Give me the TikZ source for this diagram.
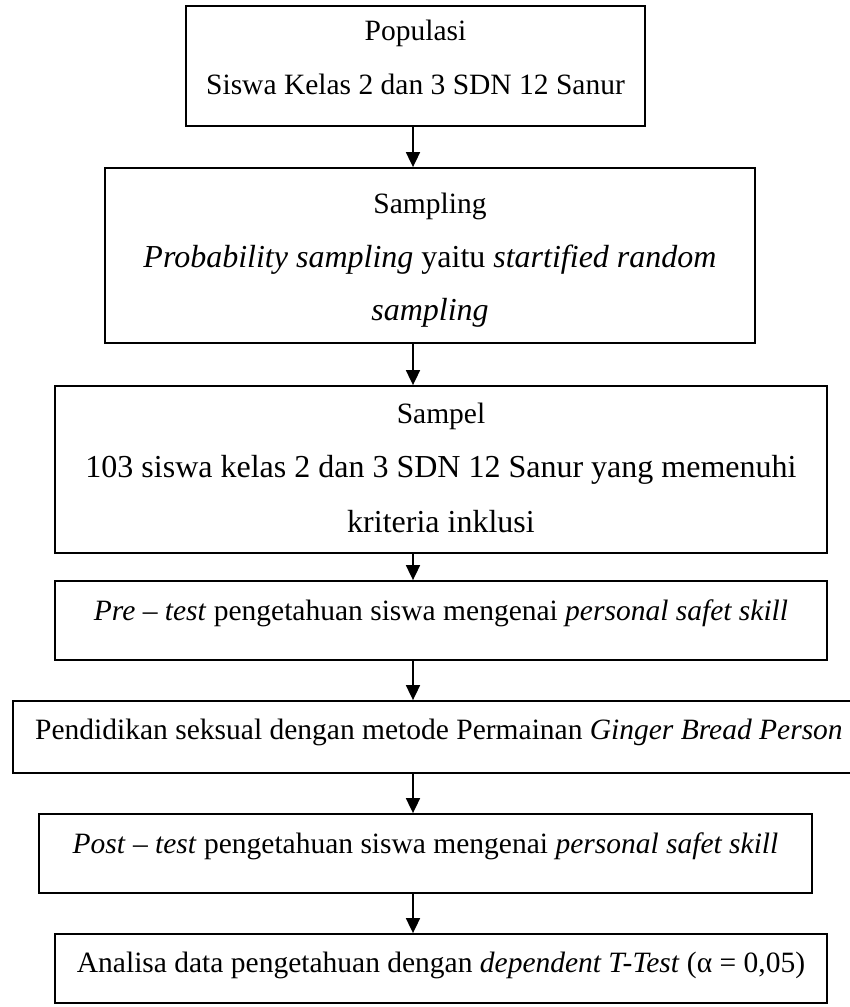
\documentclass[tikz,border=0pt]{standalone}
\usepackage{fontspec}
\setmainfont{Liberation Serif}
\usetikzlibrary{arrows.meta}
\begin{document}
\begin{tikzpicture}[x=1pt,y=1pt,
  box/.style={draw=black, line width=1.8pt, rectangle, inner sep=0pt},
  txt/.style={anchor=base, inner sep=0pt, font=\fontsize{29.5}{35}\selectfont},
  big/.style={anchor=base, inner sep=0pt, font=\fontsize{32}{38}\selectfont},
  arr/.style={line width=1.8pt, -{Triangle[length=15pt,width=14pt]}}]
\useasboundingbox (0,0) rectangle (850,-1007);
\clip (0,0) rectangle (850,-1007);
\coordinate (ax) at (413,0);
% boxes
\node[box, minimum width=459, minimum height=120] (b1) at (415.5,-66) {};
\node[box, minimum width=650, minimum height=175] (b2) at (430,-255.5) {};
\node[box, minimum width=772, minimum height=167] (b3) at (441,-469.5) {};
\node[box, minimum width=772, minimum height=79] (b4) at (441,-620.5) {};
\node[box, minimum width=852, minimum height=72] (b5) at (439,-737) {};
\node[box, minimum width=773, minimum height=79] (b6) at (425.5,-853.5) {};
\node[box, minimum width=772, minimum height=69] (b7) at (441,-968.5) {};
% texts
\node[txt] (t1a) at (415.5,-40) {Populasi};
\node[txt] (t1b) at (415.5,-94) {Siswa Kelas 2 dan 3 SDN 12 Sanur};
\node[txt] (t2a) at (430,-213) {Sampling};
\node[big] (t2b) at (430,-267) {\textit{Probability sampling} yaitu \textit{startified random}};
\node[big] (t2c) at (430,-320) {\textit{sampling}};
\node[txt] (t3a) at (441,-423) {Sampel};
\node[big] (t3b) at (441,-477) {103 siswa kelas 2 dan 3 SDN 12 Sanur yang memenuhi};
\node[big] (t3c) at (441,-532) {kriteria inklusi};
\node[txt] (t4) at (441,-620) {\textit{Pre} -- \textit{test} pengetahuan siswa mengenai \textit{personal safet skill}};
\node[txt] (t5) at (439,-739) {Pendidikan seksual dengan metode Permainan \textit{Ginger Bread Person}};
\node[txt] (t6) at (425.5,-853) {\textit{Post} -- \textit{test} pengetahuan siswa mengenai \textit{personal safet skill}};
\node[txt] (t7) at (441,-972) {Analisa data pengetahuan dengan \textit{dependent T-Test} (α = 0,05)};
% arrows
\draw[arr] (b1.south -| ax) -- (b2.north -| ax);
\draw[arr] (b2.south -| ax) -- (b3.north -| ax);
\draw[arr] (b3.south -| ax) -- (b4.north -| ax);
\draw[arr] (b4.south -| ax) -- (b5.north -| ax);
\draw[arr] (b5.south -| ax) -- (b6.north -| ax);
\draw[arr] (b6.south -| ax) -- (b7.north -| ax);
\end{tikzpicture}
\end{document}
